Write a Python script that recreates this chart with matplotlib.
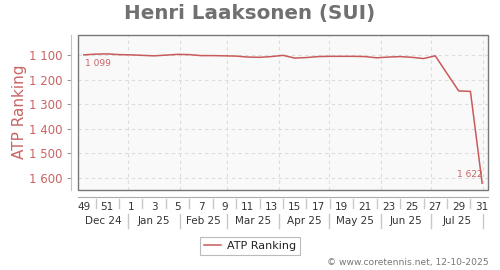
import matplotlib
matplotlib.use("Agg")
import matplotlib.pyplot as plt
import matplotlib.transforms as mtransforms
from matplotlib.patches import Rectangle
from matplotlib.lines import Line2D
import numpy as np
import pandas as pd

# ---------------- data ----------------
title = "Henri Laaksonen (SUI)"
series_name = "ATP Ranking"
weeks = [49, 50, 51, 52] + list(range(1, 32))
ranking = [1099, 1096, 1095, 1098, 1099, 1101, 1103, 1100, 1097, 1098,
           1102, 1102, 1103, 1104, 1108, 1109, 1106, 1101, 1112, 1110,
           1106, 1105, 1105, 1105, 1106, 1111, 1108, 1106, 1109, 1114,
           1103, 1175, 1246, 1248, 1622]
first_week_start = "2024-12-02"
month_labels = ["Dec 24", "Jan 25", "Feb 25", "Mar 25", "Apr 25", "May 25", "Jun 25", "Jul 25"]
month_starts = ["2024-12-01", "2025-01-01", "2025-02-01", "2025-03-01", "2025-04-01",
                "2025-05-01", "2025-06-01", "2025-07-01", "2025-08-01"]
y_ticks = [1100, 1200, 1300, 1400, 1500, 1600]
copyright_text = "\u00a9 www.coretennis.net, 12-10-2025"

# ---------------- styles ----------------
RED = "#c85a5a"
RED_LABEL = "#c86464"
GRID = "#dcdcdc"
SEP = "#c8c8c8"

W, H = 500, 270
fig = plt.figure(figsize=(W / 100, H / 100), dpi=100)
ax = fig.add_axes([78 / W, 1 - 190 / H, 410 / W, 155 / H])
ax.set_facecolor("#f9f9f9")

n = len(ranking)
x = np.arange(n)
line, = ax.plot(x, ranking, color=RED, lw=1.1, label=series_name, zorder=4,
                solid_joinstyle="round")
ax.set_xlim(-0.5, n - 0.5)
ax.set_ylim(1650, 1018)

# month boundaries in index units
base = pd.Timestamp(first_week_start)
bounds = [(pd.Timestamp(d) - base).days / 7 - 0.5 for d in month_starts]

# grid
ax.set_yticks(y_ticks)
ax.set_yticklabels([f"{v:,}".replace(",", " ") for v in y_ticks])
ax.yaxis.grid(True, ls=(0, (3, 3)), color=GRID, lw=0.8)
for b in bounds:
    if -0.5 < b < n - 0.5:
        ax.axvline(b, ls=(0, (3, 3)), color=GRID, lw=0.8, zorder=1)

# spines
for s in ["top", "right"]:
    ax.spines[s].set_visible(False)
ax.spines["left"].set_position(("outward", 5))
ax.spines["left"].set_color("#e6b4b4")
ax.spines["bottom"].set_position(("outward", 5))
ax.spines["bottom"].set_color("#aaaaaa")
ax.add_patch(Rectangle((0, 0), 1, 1, transform=ax.transAxes, fill=False,
                       edgecolor="#777777", lw=1.0, clip_on=False, zorder=5))

ax.tick_params(axis="y", direction="out", length=3, color="#999999",
               labelcolor=RED_LABEL, labelsize=8.5, pad=3)

# week tick labels
major = x[::2]
ax.set_xticks(major)
ax.set_xticklabels([str(weeks[i]) for i in major])
ax.tick_params(axis="x", length=0, labelcolor="#333333", labelsize=7.5, pad=3.5)

trans = mtransforms.blended_transform_factory(ax.transData, fig.transFigure)
for i in x[1::2]:
    fig.add_artist(Line2D([i, i], [1 - 199 / H, 1 - 208 / H], transform=trans,
                          color=SEP, lw=1.0))

# month row
left, right = -0.5, n - 0.5
for k, lab in enumerate(month_labels):
    a = max(bounds[k], left)
    b = min(bounds[k + 1], right)
    fig.text((a + b) / 2, 1 - 221 / H, lab, transform=trans, ha="center",
             va="center", fontsize=7.5, color="#333333")
for b in bounds[1:]:
    if left < b < right:
        fig.add_artist(Line2D([b, b], [1 - 214 / H, 1 - 228 / H], transform=trans,
                              color=SEP, lw=1.0))

# annotations
ax.annotate(f"{ranking[0]:,}".replace(",", " "), (x[0], ranking[0]), xytext=(0.5, -3),
            textcoords="offset points", ha="left", va="top", fontsize=6.5,
            color=RED_LABEL)
ax.annotate(f"{ranking[-1]:,}".replace(",", " "), (x[-1], ranking[-1]), xytext=(0, 3),
            textcoords="offset points", ha="right", va="bottom", fontsize=6.5,
            color=RED_LABEL)

# titles
fig.text(0.5, 1 - 13 / H, title, ha="center", va="center", fontsize=14.3,
         fontweight="bold", color="#707070")
fig.text(20 / W, 1 - 112 / H, series_name, rotation=90, ha="center", va="center",
         fontsize=11, color=RED_LABEL)

leg = fig.legend(handles=[line], loc="center", bbox_to_anchor=(250 / W, 1 - 246 / H),
                 frameon=True, fancybox=False, edgecolor="#aaaaaa", fontsize=8,
                 handlelength=1.5, borderpad=0.4, handletextpad=0.5)
leg.get_frame().set_linewidth(0.8)
for t in leg.get_texts():
    t.set_color("#222222")

fig.text(489 / W, 1 - 263 / H, copyright_text, ha="right", va="center",
         fontsize=6.6, color="#777777")

fig.savefig("out.png", dpi=100)
